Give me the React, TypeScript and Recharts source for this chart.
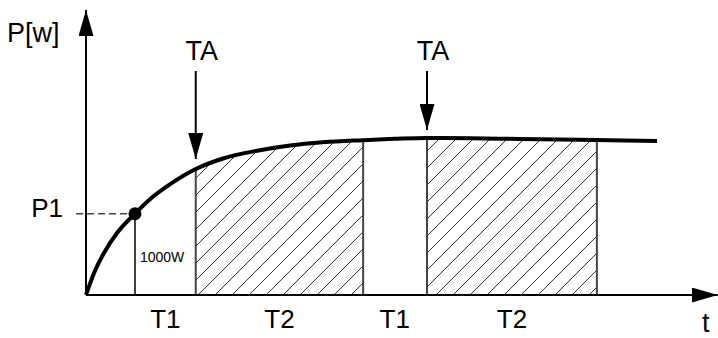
import {
  Area,
  ComposedChart,
  Line,
  ReferenceDot,
  ReferenceLine,
  XAxis,
  YAxis,
} from "recharts";

const FONT = '"Liberation Sans", Arial, Helvetica, sans-serif';

// time (arbitrary units) and power [W]
const tSec = [0, 0.13, 0.29, 0.5, 0.79, 1.05, 1.37, 1.77, 2.21, 2.76, 3.29, 3.82, 4.47, 4.98, 5.5, 6.2, 7.0, 8.24, 9.21];
const power = [0, 271, 517, 763, 1000, 1190, 1370, 1550, 1680, 1775, 1840, 1880, 1906, 1922, 1933, 1930, 1920, 1908, 1896];

// hatched T2 windows, each starting at a TA arrow
const hatchFrom = [1.77, 5.5];
const hatchTo = [4.47, 8.24];
const taTipPower = [1674, 2031];
const taTopPower = 2757;

const p1Time = 0.79;
const p1Power = 1000;
const p1Text = "1000W";

const segTicks = [1.28, 3.12, 4.98, 6.87];
const segLabels = ["T1", "T2", "T1", "T2"];

const axisEndT = 10.19;
const axisTopP = 3508;

const powerAt = (t: number) => power[tSec.indexOf(t)];

const data = tSec.map((t, i) => {
  const inHatch = hatchFrom.some((a, k) => t >= a && t <= hatchTo[k]);
  return { t, p: power[i], hatch: inHatch ? power[i] : null };
});

function SegTick(props: any) {
  const { x, y, index } = props;
  return (
    <text x={x} y={y + 33} textAnchor="middle" fontSize={26} fontFamily={FONT} fill="#000">
      {segLabels[index]}
    </text>
  );
}

function P1Tick(props: any) {
  const { x, y } = props;
  return (
    <text x={x} y={y + 3} textAnchor="end" fontSize={26} fontFamily={FONT} fill="#000">
      P1
    </text>
  );
}

const arrowLine = (width: number) => (p: any) => (
  <line
    x1={p.x1}
    y1={p.y1}
    x2={p.x2}
    y2={p.y2}
    stroke="#000"
    strokeWidth={width}
    markerEnd="url(#arrowHead)"
  />
);

export default function App() {
  return (
    <div style={{ position: "absolute", left: 0, top: 0 }}>
      <ComposedChart
        width={718}
        height={338}
        data={data}
        margin={{ top: 35, right: 12, bottom: 0, left: 0 }}
      >
        <defs>
          <marker
            id="arrowHead"
            markerWidth={26}
            markerHeight={15}
            refX={26}
            refY={7.5}
            orient="auto"
            markerUnits="userSpaceOnUse"
          >
            <path d="M0,0 L26,7.5 L0,15 Z" fill="#000" />
          </marker>
          <pattern id="hatch" width={17} height={17} patternUnits="userSpaceOnUse">
            <path d="M-1,1 l2,-2 M0,17 l17,-17 M16,18 l2,-2" stroke="#333" strokeWidth={1} />
          </pattern>
        </defs>
        <XAxis
          type="number"
          dataKey="t"
          domain={[0, 10]}
          ticks={segTicks}
          interval={0}
          height={43}
          axisLine={false}
          tickLine={false}
          tickSize={0}
          tickMargin={0}
          tick={<SegTick />}
        />
        <YAxis
          type="number"
          domain={[0, 3200]}
          ticks={[p1Power]}
          width={86}
          axisLine={false}
          tickLine={false}
          tickSize={0}
          tickMargin={23}
          tick={<P1Tick />}
        />
        <Area
          type="monotone"
          dataKey="hatch"
          fill="url(#hatch)"
          fillOpacity={1}
          stroke="none"
          isAnimationActive={false}
          activeDot={false}
        />
        {hatchFrom.map((a, k) => (
          <ReferenceLine
            key={`a${k}`}
            segment={[{ x: a, y: 0 }, { x: a, y: powerAt(a) }]}
            stroke="#444"
            strokeWidth={2}
          />
        ))}
        {hatchTo.map((b, k) => (
          <ReferenceLine
            key={`b${k}`}
            segment={[{ x: b, y: 0 }, { x: b, y: powerAt(b) }]}
            stroke="#444"
            strokeWidth={2}
          />
        ))}
        <ReferenceLine
          segment={[{ x: p1Time, y: 0 }, { x: p1Time, y: p1Power }]}
          stroke="#000"
          strokeWidth={1.5}
          label={(lp: any) => (
            <text
              x={lp.viewBox.x + 5}
              y={lp.viewBox.y + lp.viewBox.height / 2 + 8}
              fontSize={14}
              fontFamily={FONT}
              fill="#000"
            >
              {p1Text}
            </text>
          )}
        />
        <ReferenceLine
          segment={[{ x: -0.16, y: p1Power }, { x: p1Time, y: p1Power }]}
          stroke="#444"
          strokeWidth={1.5}
          strokeDasharray="7 4"
          ifOverflow="visible"
        />
        <Line
          type="monotone"
          dataKey="p"
          stroke="#000"
          strokeWidth={4}
          dot={false}
          activeDot={false}
          isAnimationActive={false}
        />
        <ReferenceDot x={p1Time} y={p1Power} r={6.5} fill="#000" stroke="none" />
        {hatchFrom.map((a, k) => (
          <ReferenceLine
            key={`ta${k}`}
            segment={[{ x: a, y: taTopPower }, { x: a, y: taTipPower[k] }]}
            ifOverflow="visible"
            shape={arrowLine(2)}
            label={(lp: any) => (
              <text
                x={lp.viewBox.x + 6}
                y={lp.viewBox.y - 11}
                textAnchor="middle"
                fontSize={27}
                fontFamily={FONT}
                fill="#000"
              >
                TA
              </text>
            )}
          />
        ))}
        <ReferenceLine
          segment={[{ x: 0, y: 0 }, { x: axisEndT, y: 0 }]}
          ifOverflow="visible"
          shape={arrowLine(2)}
          label={(lp: any) => (
            <text
              x={lp.viewBox.x + lp.viewBox.width - 12}
              y={lp.viewBox.y + 37}
              textAnchor="middle"
              fontSize={27}
              fontFamily={FONT}
              fill="#000"
            >
              t
            </text>
          )}
        />
        <ReferenceLine
          segment={[{ x: 0, y: 0 }, { x: 0, y: axisTopP }]}
          ifOverflow="visible"
          shape={arrowLine(2)}
          label={(lp: any) => (
            <text
              x={lp.viewBox.x - 79}
              y={lp.viewBox.y + 32}
              fontSize={27}
              fontFamily={FONT}
              fill="#000"
            >
              P[w]
            </text>
          )}
        />
      </ComposedChart>
    </div>
  );
}
